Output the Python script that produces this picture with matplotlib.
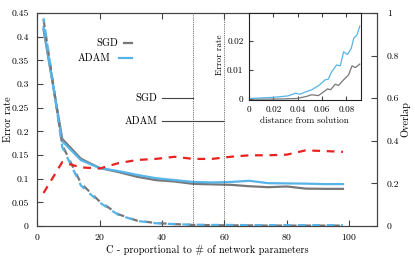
import numpy as np
import matplotlib
matplotlib.use("Agg")
from matplotlib import pyplot as plt
from matplotlib.ticker import FuncFormatter

plt.rcParams['font.family'] = ['cmr10', 'DejaVu Serif']
plt.rcParams['axes.formatter.use_mathtext'] = True
plt.rcParams['font.size'] = 7.4

# main plot data
C = [2, 8, 14, 20, 26, 32, 38, 44, 50, 56, 62, 68, 74, 80, 86, 92, 98]
sgd_err = [0.415, 0.184, 0.142, 0.1225, 0.114, 0.104, 0.097, 0.094, 0.089, 0.088,
           0.087, 0.084, 0.082, 0.0835, 0.079, 0.0785, 0.0785]
adam_err = [0.42, 0.179, 0.139, 0.1225, 0.116, 0.108, 0.101, 0.097, 0.093, 0.092,
            0.093, 0.0955, 0.0905, 0.090, 0.0895, 0.0885, 0.0885]
sgd_ovl = [0.97, 0.38, 0.20, 0.115, 0.055, 0.025, 0.014, 0.009, 0.005, 0.004,
           0.003, 0.003, 0.002, 0.002, 0.002, 0.002, 0.002]
adam_ovl = [0.975, 0.37, 0.19, 0.11, 0.052, 0.024, 0.013, 0.009, 0.006, 0.005,
            0.005, 0.004, 0.004, 0.004, 0.004, 0.004, 0.004]
sgd_adam_ovl = [0.155, 0.30, 0.275, 0.27, 0.295, 0.31, 0.315, 0.325, 0.315, 0.315,
                0.325, 0.332, 0.332, 0.335, 0.355, 0.352, 0.348]

# inset data
d_adam = [0, 0.02, 0.032, 0.038, 0.042, 0.046, 0.0515, 0.058, 0.0625, 0.065, 0.068,
          0.072, 0.075, 0.0777, 0.081, 0.084, 0.086, 0.0887, 0.091]
e_adam = [0.0002, 0.0006, 0.0011, 0.002, 0.0017, 0.0024, 0.0032, 0.0049, 0.0066,
          0.0068, 0.0094, 0.0117, 0.0114, 0.0162, 0.0153, 0.0174, 0.0208, 0.022, 0.025]
d_sgd = [0, 0.02, 0.039, 0.047, 0.0515, 0.057, 0.061, 0.0645, 0.067, 0.0708, 0.0735,
         0.0777, 0.0818, 0.0846, 0.0873, 0.091]
e_sgd = [0.0, 0.0, 0.0002, 0.0009, 0.0015, 0.0012, 0.0024, 0.0035, 0.0032, 0.0051,
         0.0047, 0.0066, 0.0083, 0.0114, 0.0108, 0.012]

grey = '#777777'
blue = '#56b4e9'
red = '#e8231f'
frame = '#444444'

fmt = FuncFormatter(lambda v, p: '%g' % round(v, 4))

fig = plt.figure(figsize=(4.15, 2.6), dpi=100)
ax = fig.add_axes([37.3/415, 34/260, 340/415, 213/260])
ax2 = ax.twinx()

ax.plot(C, sgd_err, color=grey, lw=1.6)
ax.plot(C, adam_err, color=blue, lw=1.6)
ax2.plot(C, sgd_ovl, color=grey, lw=1.6, ls=(0, (3.5, 3)))
ax2.plot(C, adam_ovl, color=blue, lw=1.6, ls=(1.5, (3.5, 3)))
ax2.plot(C, sgd_adam_ovl, color=red, lw=1.6, ls=(0, (3.5, 3)))

ax.axvline(50, color=frame, lw=0.6, ls=(0, (1, 1.2)))
ax.axvline(60, color=frame, lw=0.6, ls=(0, (1, 1.2)))
ax.plot([40, 50], [0.27, 0.27], color=frame, lw=0.8)
ax.plot([40, 60], [0.221, 0.221], color=frame, lw=0.8)
ax.text(38.5, 0.27, 'SGD', ha='right', va='center')
ax.text(38.5, 0.221, 'ADAM', ha='right', va='center')

# key
ax.plot([27.8, 30.5], [0.387, 0.387], color=grey, lw=1.6)
ax.plot([26.3, 30.5], [0.355, 0.355], color=blue, lw=1.6)
ax.text(25.8, 0.387, 'SGD', ha='right', va='center')
ax.text(23.3, 0.355, 'ADAM', ha='right', va='center')

ax.set_xlim(0, 109)
ax.set_ylim(0, 0.45)
ax2.set_ylim(0, 1)
ax.set_xticks([0, 20, 40, 60, 80, 100])
ax.set_yticks(np.arange(0, 0.46, 0.05))
ax2.set_yticks([0, 0.2, 0.4, 0.6, 0.8, 1])
ax.yaxis.set_major_formatter(fmt)
ax2.yaxis.set_major_formatter(fmt)
ax.tick_params(direction='in', length=4, width=0.8, color=frame, top=True, pad=6,
               labelsize=7)
ax.tick_params(axis='x', pad=4.5)
ax2.tick_params(direction='in', length=4, width=0.8, color=frame, pad=7, labelsize=7)
for a in (ax, ax2):
    for s in a.spines.values():
        s.set_color(frame)
        s.set_linewidth(0.8)

fig.text(207/415, 1 - 250/260, 'C - proportional to # of network parameters',
         ha='center', va='center')
fig.text(8/415, 1 - 119/260, 'Error rate', rotation=90, ha='center', va='center')
fig.text(405/415, 1 - 119/260, 'Overlap', rotation=90, ha='center', va='center')

# inset
ins = fig.add_axes([249/415, 160/260, 112/415, 87/260])
ins.plot(d_sgd, e_sgd, color=grey, lw=0.9)
ins.plot(d_adam, e_adam, color=blue, lw=0.9)
ins.set_xlim(0, 0.092)
ins.set_ylim(-0.0003, 0.0295)
ins.set_xticks([0, 0.02, 0.04, 0.06, 0.08])
ins.set_yticks([0, 0.01, 0.02])
ins.xaxis.set_major_formatter(fmt)
ins.yaxis.set_major_formatter(fmt)
ins.tick_params(direction='in', length=3, width=0.8, color=frame, top=True, pad=4,
                labelsize=6.6)
for s in ins.spines.values():
    s.set_color('#222222')
    s.set_linewidth(0.8)
fig.text(304/415, 1 - 120.5/260, 'distance from solution', ha='center', va='center',
         fontsize=6.6)
fig.text(219.5/415, 1 - 55/260, 'Error rate', rotation=90, ha='center', va='center',
         fontsize=6.6)

fig.savefig('out.png', dpi=100)
